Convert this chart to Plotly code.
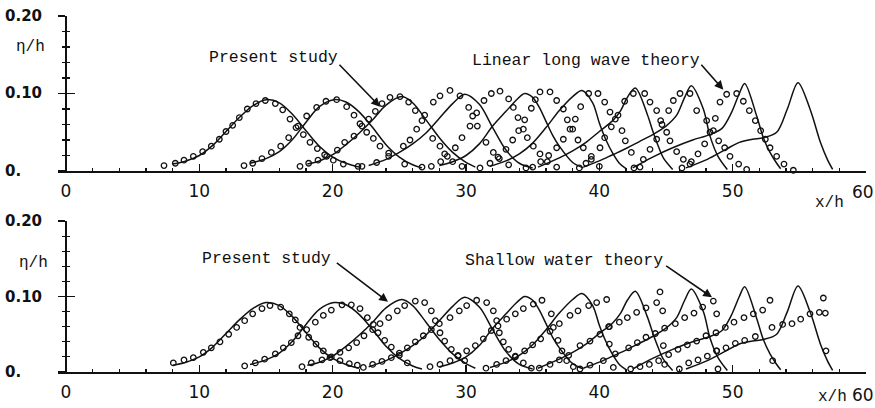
import plotly.graph_objects as go

# ---------------- data ----------------
# Present study (solid curves) - identical in both panels
c1_x = [8.0, 9.0, 10.0, 11.0, 12.0, 13.0, 14.0, 15.0, 16.0, 17.0, 18.0, 19.0, 20.0, 21.0, 22.0]
c1_y = [0.009, 0.013, 0.020, 0.033, 0.051, 0.069, 0.084, 0.092, 0.088, 0.073, 0.052, 0.032, 0.018, 0.010, 0.005]
c2_x = [13.8, 15.0, 16.0, 17.0, 18.0, 19.0, 20.1, 21.0, 22.0, 23.0, 24.0, 25.0, 26.0, 26.7]
c2_y = [0.010, 0.016, 0.025, 0.041, 0.063, 0.083, 0.092, 0.089, 0.076, 0.056, 0.034, 0.018, 0.008, 0.004]
c3_x = [18.1, 19.0, 20.0, 21.0, 22.0, 23.0, 24.0, 25.2, 26.0, 27.0, 28.0, 29.0, 30.0, 30.7]
c3_y = [0.009, 0.013, 0.021, 0.034, 0.049, 0.066, 0.085, 0.096, 0.088, 0.066, 0.043, 0.024, 0.011, 0.005]
c4_x = [22.7, 24.0, 25.0, 26.0, 27.0, 28.0, 29.0, 29.9, 31.0, 32.0, 33.0, 34.0, 35.0]
c4_y = [0.007, 0.015, 0.024, 0.035, 0.049, 0.068, 0.087, 0.099, 0.086, 0.056, 0.027, 0.010, 0.004]
c5_x = [28.0, 29.0, 30.0, 31.0, 32.0, 33.0, 33.8, 34.4, 35.0, 35.5, 36.0, 36.5, 37.0, 38.0, 38.8]
c5_y = [0.007, 0.012, 0.020, 0.035, 0.058, 0.077, 0.092, 0.100, 0.095, 0.082, 0.064, 0.046, 0.032, 0.011, 0.004]
c6_x = [31.8, 33.0, 34.0, 35.0, 36.0, 37.0, 38.0, 38.7, 39.5, 40.0, 40.5, 41.0, 41.5, 42.0]
c6_y = [0.006, 0.013, 0.022, 0.036, 0.056, 0.078, 0.096, 0.104, 0.088, 0.062, 0.040, 0.023, 0.010, 0.003]
c7_x = [35.4, 37.0, 38.0, 39.0, 40.0, 41.0, 41.6, 42.1, 42.7, 43.6, 44.0, 44.4, 44.8, 45.5]
c7_y = [0.005, 0.017, 0.026, 0.037, 0.051, 0.065, 0.078, 0.095, 0.107, 0.073, 0.052, 0.033, 0.017, 0.002]
c8_x = [38.8, 40.0, 41.0, 42.0, 43.0, 44.0, 45.0, 45.8, 46.4, 46.9, 47.8, 48.3, 48.9, 49.6]
c8_y = [0.005, 0.013, 0.021, 0.029, 0.038, 0.047, 0.058, 0.072, 0.095, 0.110, 0.080, 0.045, 0.019, 0.002]
c9_x = [42.5, 44.0, 45.5, 47.0, 48.3, 49.2, 49.9, 50.5, 50.9, 51.8, 52.3, 52.8, 53.3, 53.6]
c9_y = [0.004, 0.018, 0.030, 0.040, 0.047, 0.055, 0.075, 0.100, 0.113, 0.071, 0.043, 0.024, 0.010, 0.003]
c10_x = [46.5, 48.1, 49.5, 50.5, 51.5, 52.3, 53.3, 54.1, 54.9, 55.8, 56.6, 57.1, 57.5]
c10_y = [0.004, 0.015, 0.028, 0.037, 0.041, 0.043, 0.050, 0.080, 0.114, 0.080, 0.036, 0.015, 0.002]

# Linear long wave theory (circles, top panel)
t1_x = [7.35, 8.2, 8.85, 9.55, 10.25, 10.9, 11.5, 12.0, 12.5, 13.0, 13.6, 14.25, 14.95, 15.7, 16.25, 16.8, 17.25, 17.8, 18.3, 18.85, 19.4, 20.05, 20.8, 21.9]
t1_y = [0.007, 0.010, 0.014, 0.019, 0.025, 0.032, 0.041, 0.051, 0.059, 0.069, 0.080, 0.087, 0.091, 0.087, 0.079, 0.067, 0.056, 0.047, 0.037, 0.029, 0.021, 0.014, 0.009, 0.006]
t2_x = [13.35, 14.0, 14.7, 15.4, 16.1, 16.7, 17.4, 18.05, 18.8, 19.5, 20.3, 21.05, 21.6, 22.05, 22.55, 23.05, 23.55, 24.2, 25.4, 26.7]
t2_y = [0.007, 0.010, 0.016, 0.024, 0.032, 0.043, 0.058, 0.071, 0.082, 0.090, 0.092, 0.083, 0.072, 0.061, 0.050, 0.042, 0.032, 0.023, 0.009, 0.005]
t3_x = [17.55, 18.2, 18.9, 19.55, 20.35, 20.9, 21.6, 22.2, 22.7, 23.2, 23.7, 24.3, 25.05, 25.7, 26.2, 26.7, 27.5, 28.05, 28.4, 29.0, 29.7]
t3_y = [0.006, 0.010, 0.014, 0.019, 0.027, 0.037, 0.045, 0.058, 0.067, 0.077, 0.087, 0.095, 0.096, 0.089, 0.078, 0.065, 0.042, 0.032, 0.022, 0.012, 0.006]
t4_x = [22.2, 23.3, 24.2, 25.3, 25.8, 26.3, 26.9, 27.55, 28.05, 28.8, 29.55, 30.2, 30.5, 30.85, 31.5, 32.05, 32.5, 33.2, 34.5]
t4_y = [0.006, 0.011, 0.019, 0.032, 0.040, 0.054, 0.072, 0.089, 0.097, 0.104, 0.097, 0.082, 0.071, 0.058, 0.037, 0.024, 0.016, 0.008, 0.004]
t5_x = [27.4, 28.1, 28.6, 29.2, 29.7, 30.3, 30.8, 31.35, 31.9, 32.55, 33.2, 33.55, 33.9, 34.3, 34.6, 35.05, 35.55, 36.1, 36.8]
t5_y = [0.006, 0.012, 0.019, 0.030, 0.043, 0.058, 0.075, 0.091, 0.100, 0.103, 0.093, 0.082, 0.069, 0.054, 0.043, 0.032, 0.022, 0.012, 0.005]
t6_x = [31.05, 31.8, 32.4, 33.0, 33.5, 33.95, 34.4, 34.9, 35.2, 35.55, 36.3, 36.8, 37.3, 37.6, 38.0, 38.4, 38.8, 39.4, 40.0]
t6_y = [0.004, 0.010, 0.018, 0.028, 0.040, 0.052, 0.066, 0.081, 0.092, 0.102, 0.102, 0.091, 0.080, 0.066, 0.054, 0.040, 0.030, 0.015, 0.006]
t7_x = [35.0, 35.6, 36.2, 36.8, 37.3, 37.8, 38.2, 38.6, 39.2, 39.9, 40.4, 40.8, 41.2, 41.7, 41.95, 42.4, 43.05]
t7_y = [0.005, 0.012, 0.020, 0.030, 0.041, 0.054, 0.067, 0.083, 0.100, 0.100, 0.089, 0.076, 0.067, 0.052, 0.039, 0.024, 0.005]
t8_x = [38.5, 39.0, 39.4, 40.05, 40.4, 40.9, 41.4, 41.9, 42.55, 43.4, 43.8, 44.3, 44.6, 45.05, 45.3, 45.8, 46.3, 46.8]
t8_y = [0.004, 0.010, 0.019, 0.030, 0.043, 0.057, 0.072, 0.090, 0.100, 0.100, 0.089, 0.078, 0.065, 0.050, 0.039, 0.025, 0.015, 0.009]
t9_x = [42.6, 43.3, 43.8, 44.3, 44.7, 45.2, 45.55, 46.05, 46.8, 47.3, 48.05, 48.55, 48.95, 49.4, 49.8, 50.45, 51.05]
t9_y = [0.004, 0.015, 0.028, 0.041, 0.060, 0.078, 0.091, 0.100, 0.100, 0.078, 0.065, 0.052, 0.039, 0.030, 0.019, 0.009, 0.002]
t10_x = [46.2, 46.9, 47.4, 47.9, 48.3, 48.7, 49.05, 49.55, 50.3, 50.8, 51.25, 51.7, 52.1, 52.45, 52.8, 53.3, 53.85, 54.55]
t10_y = [0.004, 0.012, 0.022, 0.035, 0.050, 0.068, 0.089, 0.099, 0.100, 0.090, 0.078, 0.065, 0.052, 0.041, 0.030, 0.019, 0.009, 0.001]

# Shallow water theory (circles, bottom panel)
s1_x = [8.05, 8.85, 9.55, 10.3, 10.9, 11.55, 12.2, 12.8, 13.4, 14.0, 14.7, 15.3, 16.1, 16.75, 17.2, 17.55, 18.2, 18.75, 19.3, 19.9, 20.55, 21.25, 21.85]
s1_y = [0.012, 0.016, 0.019, 0.026, 0.032, 0.040, 0.050, 0.059, 0.068, 0.077, 0.084, 0.088, 0.086, 0.077, 0.069, 0.059, 0.046, 0.037, 0.028, 0.020, 0.015, 0.011, 0.009]
s2_x = [13.4, 14.2, 14.9, 15.7, 16.3, 16.9, 17.4, 18.05, 18.7, 19.3, 19.9, 20.7, 21.4, 22.05, 22.6, 23.05, 23.4, 23.9, 24.4, 25.0, 25.6]
s2_y = [0.008, 0.012, 0.017, 0.024, 0.032, 0.039, 0.048, 0.056, 0.066, 0.075, 0.082, 0.089, 0.089, 0.084, 0.072, 0.063, 0.052, 0.042, 0.033, 0.022, 0.012]
s3_x = [17.7, 18.4, 19.2, 19.8, 20.55, 21.2, 21.8, 22.35, 23.0, 23.55, 24.2, 24.85, 25.4, 26.2, 26.9, 27.4, 27.7, 28.05, 28.4, 28.9, 29.4, 29.9]
s3_y = [0.007, 0.012, 0.016, 0.019, 0.026, 0.032, 0.039, 0.048, 0.056, 0.064, 0.072, 0.081, 0.088, 0.094, 0.092, 0.081, 0.068, 0.052, 0.041, 0.030, 0.022, 0.015]
s4_x = [22.3, 23.0, 23.7, 24.4, 25.0, 25.6, 26.2, 26.8, 27.4, 28.0, 28.8, 29.5, 30.05, 30.8, 31.55, 32.05, 32.3, 32.5, 32.8, 33.2, 33.7, 34.3, 34.9]
s4_y = [0.006, 0.010, 0.014, 0.019, 0.025, 0.032, 0.040, 0.048, 0.056, 0.064, 0.072, 0.081, 0.088, 0.095, 0.092, 0.081, 0.068, 0.052, 0.040, 0.030, 0.020, 0.012, 0.005]
s5_x = [27.3, 28.05, 28.8, 29.4, 30.05, 30.7, 31.3, 31.9, 32.4, 33.05, 33.7, 34.3, 35.05, 35.7, 36.4, 36.55, 36.9, 37.2, 37.55, 38.05]
s5_y = [0.007, 0.010, 0.015, 0.021, 0.028, 0.035, 0.044, 0.055, 0.061, 0.070, 0.077, 0.084, 0.090, 0.095, 0.077, 0.059, 0.042, 0.028, 0.015, 0.007]
s6_x = [31.5, 32.3, 33.0, 33.7, 34.4, 35.0, 35.6, 36.3, 37.0, 37.8, 38.4, 39.2, 39.8, 40.55, 40.7, 40.75, 41.05]
s6_y = [0.005, 0.010, 0.015, 0.021, 0.028, 0.036, 0.044, 0.054, 0.064, 0.075, 0.081, 0.088, 0.092, 0.096, 0.060, 0.037, 0.006]
s7_x = [35.5, 36.3, 37.0, 37.7, 38.55, 39.3, 40.05, 40.75, 41.5, 42.1, 42.8, 43.5, 44.3, 44.55, 44.75, 44.8, 44.9]
s7_y = [0.005, 0.010, 0.016, 0.022, 0.035, 0.041, 0.050, 0.060, 0.066, 0.072, 0.079, 0.085, 0.092, 0.106, 0.081, 0.035, 0.010]
s8_x = [38.55, 39.3, 40.3, 41.2, 42.2, 42.85, 43.5, 44.2, 44.9, 45.7, 46.4, 47.1, 47.75, 48.55, 48.8, 48.8, 48.9]
s8_y = [0.004, 0.009, 0.015, 0.024, 0.032, 0.039, 0.046, 0.051, 0.058, 0.064, 0.072, 0.078, 0.086, 0.094, 0.077, 0.028, 0.004]
s9_x = [42.35, 43.05, 43.75, 44.45, 45.2, 45.9, 46.6, 47.3, 48.0, 48.75, 49.45, 50.1, 50.85, 51.55, 52.25, 52.8, 53.0]
s9_y = [0.004, 0.007, 0.010, 0.015, 0.023, 0.030, 0.036, 0.041, 0.048, 0.052, 0.059, 0.066, 0.072, 0.077, 0.082, 0.095, 0.015]
s10_x = [46.0, 46.7, 47.4, 48.1, 48.8, 49.5, 50.2, 50.9, 51.7, 52.95, 53.75, 54.45, 55.1, 55.8, 56.5, 56.95, 56.8, 57.0]
s10_y = [0.004, 0.012, 0.016, 0.021, 0.028, 0.032, 0.038, 0.042, 0.047, 0.059, 0.063, 0.064, 0.070, 0.077, 0.079, 0.078, 0.098, 0.028]

# tick labels
xtick_vals = [0, 10, 20, 30, 40, 50, 60]
xtick_text = ["0", "10", "20", "30", "40", "50", ""]
xend_label = "60"
ytick_vals = [0.0, 0.10, 0.20]
ytick_text = ["0.", "0.10", "0.20"]

solid_x = [c1_x, c2_x, c3_x, c4_x, c5_x, c6_x, c7_x, c8_x, c9_x, c10_x]
solid_y = [c1_y, c2_y, c3_y, c4_y, c5_y, c6_y, c7_y, c8_y, c9_y, c10_y]
lin_x = [t1_x, t2_x, t3_x, t4_x, t5_x, t6_x, t7_x, t8_x, t9_x, t10_x]
lin_y = [t1_y, t2_y, t3_y, t4_y, t5_y, t6_y, t7_y, t8_y, t9_y, t10_y]
sw_x = [s1_x, s2_x, s3_x, s4_x, s5_x, s6_x, s7_x, s8_x, s9_x, s10_x]
sw_y = [s1_y, s2_y, s3_y, s4_y, s5_y, s6_y, s7_y, s8_y, s9_y, s10_y]

# ---------------- figure ----------------
W, H = 875, 408
INK = "#111111"
fig = go.Figure()

line_style = dict(color=INK, width=1.5, shape="spline", smoothing=0.9)
marker_style = dict(symbol="circle-open", size=5.5, color=INK, line=dict(width=1.3, color=INK))

for xa, ya, cx, cy in [("x", "y3", lin_x, lin_y), ("x2", "y4", sw_x, sw_y)]:
    for xs, ys in zip(cx, cy):
        fig.add_trace(go.Scatter(x=xs, y=ys, mode="markers", marker=marker_style,
                                 xaxis=xa, yaxis=ya, showlegend=False, cliponaxis=False,
                                 hoverinfo="skip"))
for xa, ya in [("x", "y"), ("x2", "y2")]:
    for xs, ys in zip(solid_x, solid_y):
        fig.add_trace(go.Scatter(x=xs, y=ys, mode="lines", line=line_style,
                                 xaxis=xa, yaxis=ya, showlegend=False, hoverinfo="skip"))

x_dom = [58 / W, 866 / W]
x_rng = [-0.6, 60]
y_pos = 66 / W
top_dom = [(H - 171) / H, (H - 16) / H]
bot_dom = [(H - 372) / H, (H - 221) / H]

xfont = dict(family="DejaVu Sans", size=17, color=INK)


def xaxis_cfg(anchor):
    return dict(domain=x_dom, range=x_rng, anchor=anchor, showline=True, linewidth=2,
                linecolor=INK, ticks="inside", ticklen=7, tickwidth=1.5, tickcolor=INK,
                tickmode="array", tickvals=xtick_vals, ticktext=xtick_text,
                tickfont=xfont, ticklabelstandoff=4, showgrid=False, zeroline=False,
                minor=dict(tickmode="linear", tick0=0, dtick=2, ticks="inside",
                           ticklen=3, tickwidth=1.2, tickcolor=INK))


def yaxis_cfg(dom, side_ticks, overlay=None):
    cfg = dict(domain=dom, range=[0, 0.2], anchor="free", position=y_pos,
               showline=overlay is None, linewidth=2, linecolor=INK,
               ticks=side_ticks, ticklen=7 if side_ticks == "outside" else 8,
               tickwidth=1.5, tickcolor=INK, tickmode="linear", tick0=0, dtick=0.1,
               showticklabels=False, showgrid=False, zeroline=False,
               minor=dict(tickmode="linear", tick0=0, dtick=0.02, ticks=side_ticks,
                          ticklen=3, tickwidth=1.2, tickcolor=INK))
    if overlay:
        cfg["overlaying"] = overlay
    return cfg


fig.update_layout(
    width=W, height=H, margin=dict(l=0, r=0, t=0, b=0),
    paper_bgcolor="white", plot_bgcolor="white",
    xaxis=xaxis_cfg("y"), xaxis2=xaxis_cfg("y2"),
    yaxis=yaxis_cfg(top_dom, "outside"), yaxis2=yaxis_cfg(bot_dom, "outside"),
    yaxis3=yaxis_cfg(top_dom, "inside", "y"), yaxis4=yaxis_cfg(bot_dom, "inside", "y2"),
)

mono = dict(family="Liberation Mono", size=16.5, color=INK)
ann = []


def text_ann(x, y, text, font, xref="paper", yref="paper", xanchor="center"):
    return dict(xref=xref, yref=yref, x=x, y=y, text=text, showarrow=False,
                xanchor=xanchor, yanchor="middle", font=font)


# y tick labels (left aligned at page edge)
yfont = dict(family="DejaVu Sans", size=15, color=INK, weight="bold")
for yref in ["y", "y2"]:
    for v, t in zip(ytick_vals, ytick_text):
        ann.append(text_ann(3 / W, v, t, yfont, yref=yref, xanchor="left"))
# end-of-axis "60" labels
ann.append(text_ann(863 / W, (H - 192) / H, xend_label, xfont))
ann.append(text_ann(863 / W, (H - 395) / H, xend_label, xfont))
# axis titles
tfont = dict(family="Liberation Mono", size=16, color=INK)
ann.append(text_ann(30 / W, (H - 47) / H, "η/h", tfont))
ann.append(text_ann(33 / W, (H - 263) / H, "η/h", tfont))
xtfont = dict(family="Liberation Mono", size=16, color=INK)
ann.append(text_ann(829 / W, (H - 203) / H, "x/h", xtfont))
ann.append(text_ann(832 / W, (H - 397) / H, "x/h", xtfont))
# labels
ann.append(text_ann(10.6, 0.147, "Present study", mono, "x", "y", "left"))
ann.append(text_ann(30.3, 0.143, "Linear long wave theory", mono, "x", "y", "left"))
ann.append(text_ann(10.05, 0.150, "Present study", mono, "x2", "y2", "left"))
ann.append(text_ann(29.8, 0.148, "Shallow water theory", mono, "x2", "y2", "left"))
# arrows
arrow = dict(text="", showarrow=True, arrowhead=2, arrowsize=1.1, arrowwidth=1.6, arrowcolor=INK)
ann.append(dict(xref="x", yref="y", axref="x", ayref="y", x=23.55, y=0.083, ax=20.4, ay=0.139, **arrow))
ann.append(dict(xref="x", yref="y", axref="x", ayref="y", x=49.3, y=0.105, ax=47.55, ay=0.139, **arrow))
ann.append(dict(xref="x2", yref="y2", axref="x2", ayref="y2", x=24.15, y=0.093, ax=20.2, ay=0.146, **arrow))
ann.append(dict(xref="x2", yref="y2", axref="x2", ayref="y2", x=48.45, y=0.099, ax=44.9, ay=0.142, **arrow))
fig.update_layout(annotations=ann)

fig.write_html(
    "out.html",
    config={"displayModeBar": False, "staticPlot": True},
    post_script="document.body.style.margin='0';document.body.style.padding='0';"
                "document.documentElement.style.overflow='hidden';",
)
